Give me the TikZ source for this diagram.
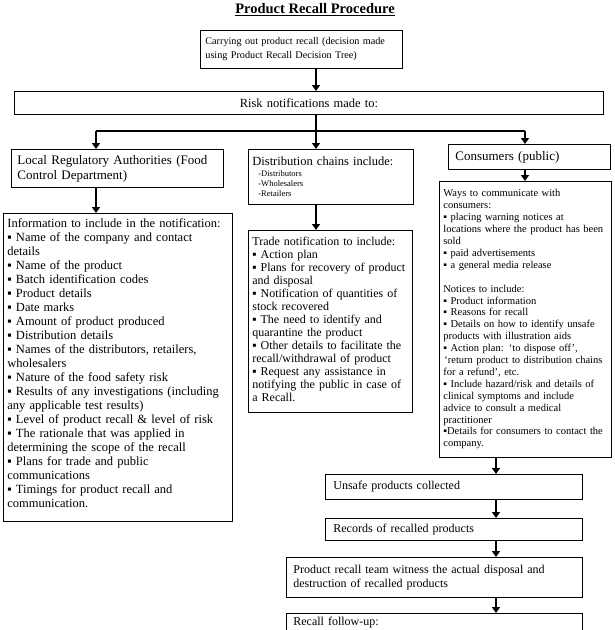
\documentclass[tikz,border=0pt]{standalone}
\usepackage{fontspec}
\setmainfont{Liberation Serif}
\usetikzlibrary{arrows.meta}

\begin{document}
\begin{tikzpicture}[x=1pt, y=-1pt,
    box/.style={draw, line width=0.8pt, anchor=north west, align=left, inner xsep=4pt, inner ysep=0pt},
    link/.style={line width=2.4pt},
    >={Triangle[length=6pt, width=8pt]}]
    \useasboundingbox (0, 0) rectangle (614, 630);

    %Nodes
    \node[font=\fontsize{14.5}{16}\selectfont\bfseries] at (315, 10) (title) {\underline{Product Recall Procedure}};

    \node[box, inner xsep=5pt, text width=192pt, minimum height=38pt, font=\fontsize{10.2}{14}\selectfont] at (200, 30) (carry) {Carrying out product recall (decision made\\using Product Recall Decision Tree)};
    \node[box, align=center, text width=581pt, minimum height=23pt, font=\fontsize{12.5}{14}\selectfont] at (14, 91) (risk) {Risk notifications made to:};

    \node[box, inner xsep=6pt, text width=200pt, minimum height=38pt, font=\fontsize{13}{15}\selectfont] at (11, 149) (local) {Local Regulatory Authorities (Food\\Control Department)};
    \node[box, text width=157pt, minimum height=55pt, font=\fontsize{12.5}{14}\selectfont] at (248, 149) (dist) {Distribution chains include:\par\vspace{1pt}{\fontsize{8.5}{10}\selectfont\hspace*{6pt}-Distributors\\\hspace*{6pt}-Wholesalers\\\hspace*{6pt}-Retailers\par}};
    \node[box, inner xsep=7pt, text width=148pt, minimum height=25pt, font=\fontsize{13}{15}\selectfont] at (448, 144) (consumers) {Consumers (public)};

    \node[box, text width=221pt, minimum height=308pt, font=\fontsize{12.5}{14}\selectfont] at (3, 213) (info) {Information to include in the notification:\\
        ▪ Name of the company and contact\\
        details\\
        ▪ Name of the product\\
        ▪ Batch identification codes\\
        ▪ Product details\\
        ▪ Date marks\\
        ▪ Amount of product produced\\
        ▪ Distribution details\\
        ▪ Names of the distributors, retailers,\\
        wholesalers\\
        ▪ Nature of the food safety risk\\
        ▪ Results of any investigations (including\\
        any applicable test results)\\
        ▪ Level of product recall \& level of risk\\
        ▪ The rationale that was applied in\\
        determining the scope of the recall\\
        ▪ Plans for trade and public\\
        communications\\
        ▪ Timings for product recall and\\
        communication.\vspace{8pt}};

    \node[box, text width=156pt, minimum height=182pt, font=\fontsize{12}{13}\selectfont] at (248, 230) (trade) {Trade notification to include:\\
        ▪ Action plan\\
        ▪ Plans for recovery of product\\
        and disposal\\
        ▪ Notification of quantities of\\
        stock recovered\\
        ▪ The need to identify and\\
        quarantine the product\\
        ▪ Other details to facilitate the\\
        recall/withdrawal of product\\
        ▪ Request any assistance in\\
        notifying the public in case of\\
        a Recall.\vspace{4pt}};

    \node[box, text width=164pt, minimum height=276pt, font=\fontsize{10.5}{11.9}\selectfont] at (439, 181) (ways) {Ways to communicate with\\
        consumers:\\
        ▪ placing warning notices at\\
        locations where the product has been\\
        sold\\
        ▪ paid advertisements\\
        ▪ a general media release\\[11.9pt]
        Notices to include:\\
        ▪ Product information\\
        ▪ Reasons for recall\\
        ▪ Details on how to identify unsafe\\
        products with illustration aids\\
        ▪ Action plan: `to dispose off',\\
        \hspace*{1pt}`return product to distribution chains\\
        for a refund', etc.\\
        ▪ Include hazard/risk and details of\\
        clinical symptoms and include\\
        advice to consult a medical\\
        practitioner\\
        ▪Details for consumers to contact the\\
        company.};

    \node[box, inner xsep=8pt, text width=241pt, minimum height=25pt, font=\fontsize{12}{14}\selectfont] at (325, 474) (unsafe) {Unsafe products collected};
    \node[box, inner xsep=8pt, text width=241pt, minimum height=22pt, font=\fontsize{12}{14}\selectfont] at (325, 518) (records) {Records of recalled products};
    \node[box, inner xsep=7pt, text width=282pt, minimum height=40pt, font=\fontsize{12}{14}\selectfont] at (286, 557) (team) {Product recall team witness the actual disposal and\\destruction of recalled products};
    \node[box, inner xsep=7pt, inner ysep=4pt, text width=282pt, text depth=30pt, font=\fontsize{12}{14}\selectfont] at (286, 613) (followup) {Recall follow-up:};

    \coordinate (split) at (316, 131);
    \coordinate (splitL) at (96, 131);
    \coordinate (splitR) at (525, 131);
    \coordinate (chain) at (496, 465);

    %Lines
    \draw[->, link] (carry.south -| split) -- (risk.north -| split);
    \draw[line width=1.2pt] (risk.south -| split) -- (split);
    \draw[line width=1.2pt] (splitL) -- (splitR);
    \draw[->, link] (splitL) -- (local.north -| splitL);
    \draw[->, link] (split) -- (dist.north -| split);
    \draw[->, link] (splitR) -- (consumers.north -| splitR);
    \draw[->, link] (local.south -| splitL) -- (info.north -| splitL);
    \draw[->, link] (dist.south -| split) -- (trade.north -| split);
    \draw[->, link] (consumers.south -| splitR) -- (ways.north -| splitR);
    \draw[->, link] (ways.south -| chain) -- (unsafe.north -| chain);
    \draw[->, link] (unsafe.south -| chain) -- (records.north -| chain);
    \draw[->, link] (records.south -| chain) -- (team.north -| chain);
    \draw[->, link] (team.south -| chain) -- (followup.north -| chain);

\end{tikzpicture}
\end{document}
